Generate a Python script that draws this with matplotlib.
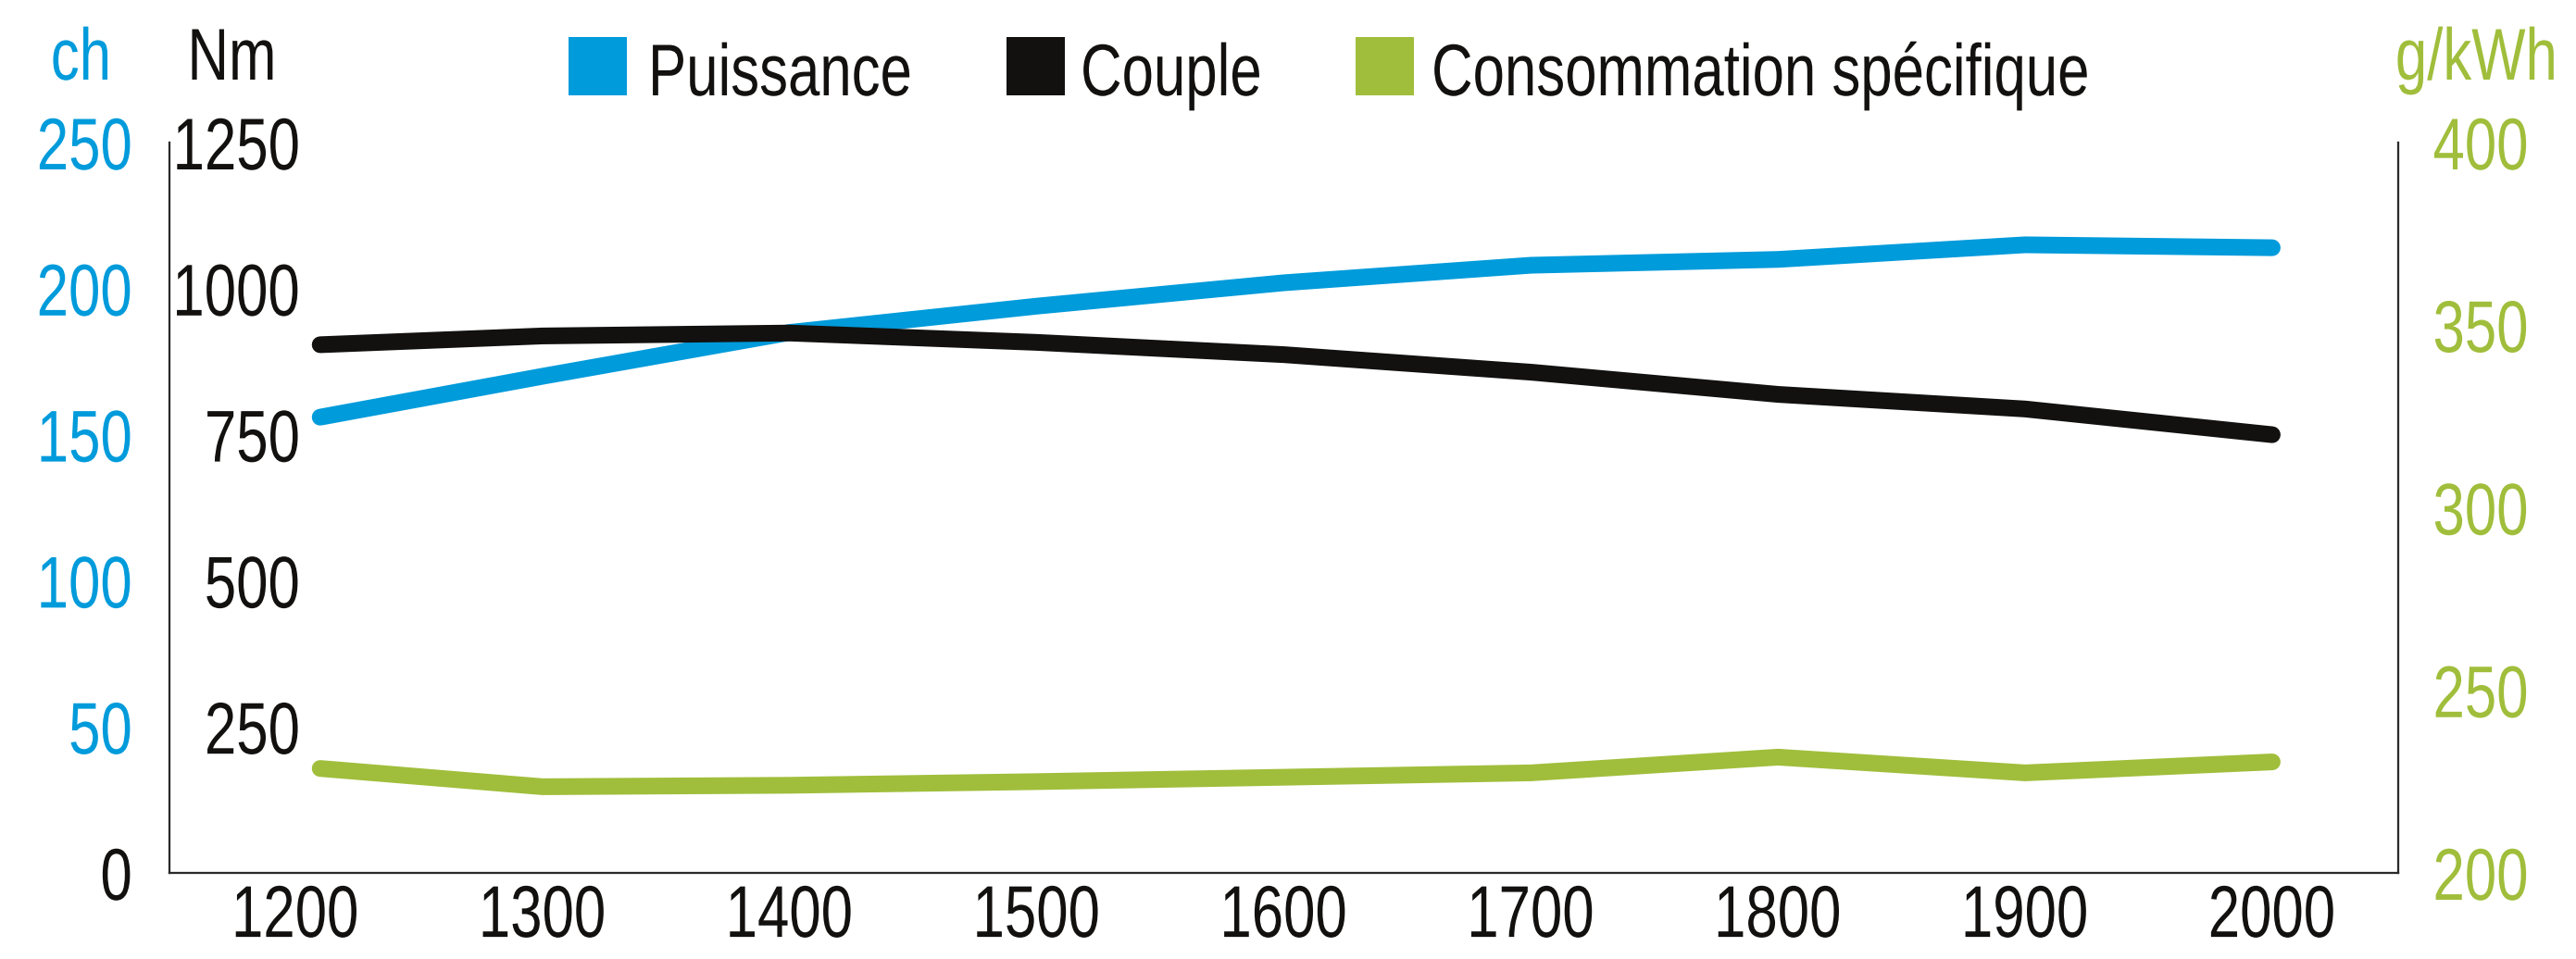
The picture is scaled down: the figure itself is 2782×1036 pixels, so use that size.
import matplotlib
matplotlib.use("Agg")
import matplotlib.pyplot as plt
from matplotlib.patches import Rectangle
from matplotlib.patheffects import AbstractPathEffect
from matplotlib.transforms import Affine2D

# data
rpm = [1210, 1300, 1400, 1500, 1600, 1700, 1800, 1900, 2000]
puissance_ch = [156, 170, 185, 194, 202, 208, 210, 215, 214]
couple_nm = [904, 919, 924, 908, 887, 857, 819, 794, 750]
conso_gkwh = [228.6, 223.6, 224.0, 225.0, 226.2, 227.4, 231.7, 227.4, 230.4]

rpm_ticks = [1200, 1300, 1400, 1500, 1600, 1700, 1800, 1900, 2000]
ch_ticks = [0, 50, 100, 150, 200, 250]
nm_ticks = [250, 500, 750, 1000, 1250]
g_ticks = [200, 250, 300, 350, 400]
legend_labels = ['Puissance', 'Couple', 'Consommation spécifique']

BLUE = '#009BDB'
BLACK = '#121110'
GREEN = '#A0BE3B'

W, H = 2782, 1036
DPI = 200
FS = 28.5
SQUEEZE = 0.78


class Narrow(AbstractPathEffect):
    """squeeze glyphs horizontally (the reference uses a condensed face)"""

    def __init__(self, sx=SQUEEZE, anchor=0.0):
        super().__init__()
        self.sx = sx
        self.anchor = anchor

    def draw_path(self, renderer, gc, tpath, affine, rgbFace=None):
        w = tpath.get_extents().x1
        t = Affine2D().translate(-self.anchor * w, 0).scale(self.sx, 1).translate(self.anchor * w, 0)
        renderer.draw_path(gc, tpath, t + affine, rgbFace)


def narrow(text):
    anchor = {'left': 0.0, 'center': 0.5, 'right': 1.0}[text.get_ha()]
    text.set_path_effects([Narrow(SQUEEZE, anchor)])
    return text


plt.rcParams['font.family'] = ['Liberation Sans', 'DejaVu Sans']

fig = plt.figure(figsize=(W / DPI, H / DPI), dpi=DPI)
ax = fig.add_axes([183 / W, 1 - 943 / H, (2590 - 183) / W, (943 - 154) / H])
ax_nm = ax.twinx()
ax_g = ax.twinx()

lw = 6.5
ax.plot(rpm, puissance_ch, color=BLUE, lw=lw, solid_capstyle='round', zorder=3)
ax_nm.plot(rpm, couple_nm, color=BLACK, lw=lw, solid_capstyle='round', zorder=3)
ax_g.plot(rpm, conso_gkwh, color=GREEN, lw=lw, solid_capstyle='round', zorder=3)

ax.set_xlim(1149, 2051)
ax.set_ylim(0, 250)
ax_nm.set_ylim(0, 1250)
ax_g.set_ylim(200, 400)

# ch axis (left, outside)
ax.set_yticks(ch_ticks)
ax.tick_params(axis='y', length=0, pad=14.2, labelsize=FS, labelcolor=BLUE)
ax.get_yticklabels()[0].set_color(BLACK)
ax.set_xticks(rpm_ticks)
ax.tick_params(axis='x', length=0, pad=4, labelsize=FS, labelcolor=BLACK)

# Nm axis (left, labels sit inside the plot)
ax_nm.yaxis.tick_left()
ax_nm.set_yticks(nm_ticks)
ax_nm.tick_params(axis='y', length=0, pad=-51, labelsize=FS, labelcolor=BLACK)

# g/kWh axis (right)
ax_g.set_yticks(g_ticks)
ax_g.tick_params(axis='y', length=0, pad=13.5, labelsize=FS, labelcolor=GREEN)

for lbl in (ax.get_xticklabels() + ax.get_yticklabels()
            + ax_nm.get_yticklabels() + ax_g.get_yticklabels()):
    narrow(lbl)

for a in (ax, ax_nm, ax_g):
    a.spines['top'].set_visible(False)
    for s in ('left', 'right', 'bottom'):
        a.spines[s].set_linewidth(0.75)
        a.spines[s].set_color('#2a2a2a')
    a.patch.set_visible(False)

# unit labels
base_y = 1 - 86 / H
narrow(fig.text(88 / W, base_y, 'ch', color=BLUE, fontsize=FS, ha='center', va='baseline'))
narrow(fig.text(251 / W, base_y, 'Nm', color=BLACK, fontsize=FS, ha='center', va='baseline'))
narrow(fig.text(2763 / W, base_y, 'g/kWh', color=GREEN, fontsize=FS, ha='right', va='baseline'))

# legend
leg_base = 1 - 103 / H
square_x = [614, 1087, 1464]
text_x = [700, 1167, 1546]
for sx, tx, col, lab in zip(square_x, text_x, [BLUE, BLACK, GREEN], legend_labels):
    fig.patches.append(Rectangle((sx / W, leg_base), 63 / W, 63 / H, facecolor=col,
                                 edgecolor='none', transform=fig.transFigure, figure=fig))
    narrow(fig.text(tx / W, leg_base, lab, color=BLACK, fontsize=FS, ha='left', va='baseline'))

fig.savefig('out.png', dpi=DPI)
